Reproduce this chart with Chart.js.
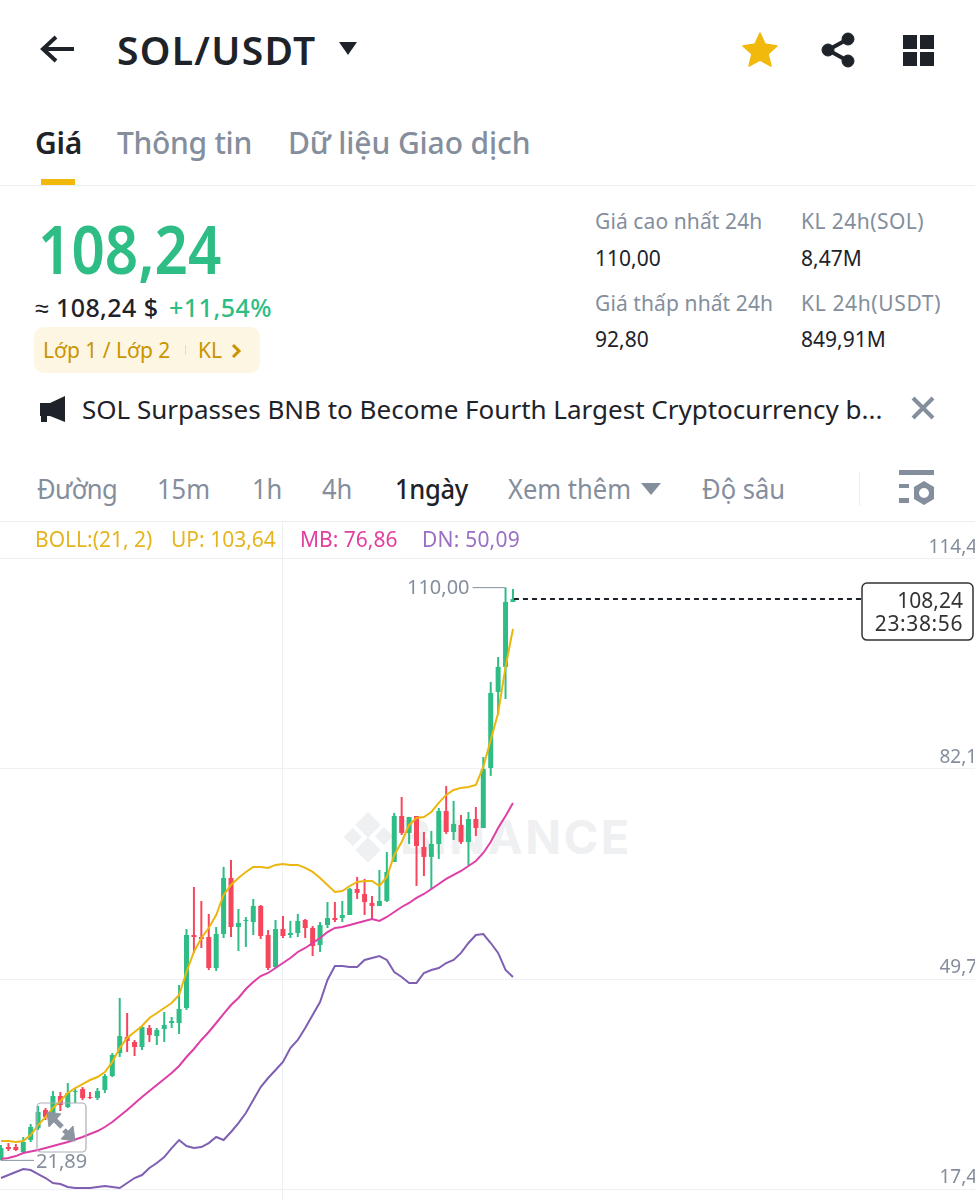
<!DOCTYPE html>
<html>
<head>
<meta charset="utf-8">
<title>SOL/USDT</title>
<script src="https://cdn.jsdelivr.net/npm/chart.js@4"></script>
<style>
  html, body { margin: 0; padding: 0; background: #fff; }
  body { width: 975px; height: 1200px; position: relative; overflow: hidden; font-family: "Noto Sans", sans-serif; color: #1e2329; }
  .t { position: absolute; white-space: nowrap; line-height: 1; transform-origin: left center; }
  .gray { color: #848e9c; }
  .stat { font-size: 21px; letter-spacing: 0.1px; }
  .val { font-size: 21px; }
  .tab { font-size: 27px; top: 475px; color: #848e9c; transform: scaleX(0.945); }
  .leg { font-size: 21px; top: 529px; }
  .line { position: absolute; left: 0; width: 975px; height: 1px; background: #eceef1; }
  svg { position: absolute; left: 0; top: 0; }
  #wm { position: absolute; left: 400px; top: 808px; font: 700 47px Inter, sans-serif; color: #eef0f2; letter-spacing: 2.5px; }
  #grafico { position: absolute; left: 0; top: 522px; }
</style>
</head>
<body>

<div class="t" style="left:117px;top:30px;font-size:39px;font-weight:600;letter-spacing:1.3px">SOL/USDT</div>

<div class="t" style="left:35px;top:128px;font-size:30px;font-weight:600;letter-spacing:-0.3px">Giá</div>
<div class="t gray" style="left:117px;top:128px;font-size:30px;font-weight:500;letter-spacing:-0.3px">Thông tin</div>
<div class="t gray" style="left:288px;top:128px;font-size:30px;font-weight:500;letter-spacing:-0.1px">Dữ liệu Giao dịch</div>
<div style="position:absolute;left:41px;top:179px;width:34px;height:6px;background:#f0b90b"></div>
<div class="line" style="top:185px"></div>

<div class="t" style="left:38px;top:215px;font-size:66px;font-weight:600;color:#2ebd85;transform:scaleX(0.885)">108,24</div>
<div class="t" style="left:35px;top:295px;font-size:25px;font-weight:500;letter-spacing:0.4px">≈ 108,24 $</div>
<div class="t" style="left:169px;top:295px;font-size:25px;font-weight:500;color:#2ebd85;letter-spacing:0.5px">+11,54%</div>
<div style="position:absolute;left:34px;top:327px;width:226px;height:46px;border-radius:10px;background:#fdf6e3"></div>
<div class="t" style="left:43px;top:340px;font-size:21px;color:#c99400">Lớp 1 / Lớp 2</div>
<div style="position:absolute;left:185px;top:345px;width:1px;height:10px;background:#e6dcc0"></div>
<div class="t" style="left:198px;top:340px;font-size:21px;color:#c99400">KL</div>

<div class="t stat gray" style="left:595px;top:211px">Giá cao nhất 24h</div>
<div class="t stat gray" style="left:801px;top:211px;letter-spacing:0.45px">KL 24h(SOL)</div>
<div class="t val" style="left:595px;top:248px">110,00</div>
<div class="t val" style="left:801px;top:248px">8,47M</div>
<div class="t stat gray" style="left:595px;top:293px">Giá thấp nhất 24h</div>
<div class="t stat gray" style="left:801px;top:293px;letter-spacing:0.65px">KL 24h(USDT)</div>
<div class="t val" style="left:595px;top:329px">92,80</div>
<div class="t val" style="left:801px;top:329px">849,91M</div>

<div class="t" style="left:82px;top:396px;font-size:26px">SOL Surpasses BNB to Become Fourth Largest Cryptocurrency b...</div>

<div class="t tab" style="left:37px;letter-spacing:-0.6px">Đường</div>
<div class="t tab" style="left:157px">15m</div>
<div class="t tab" style="left:252px">1h</div>
<div class="t tab" style="left:322px">4h</div>
<div class="t tab" style="left:395px;color:#1e2329;font-weight:500;letter-spacing:-0.3px">1ngày</div>
<div class="t tab" style="left:508px">Xem thêm</div>
<div class="t tab" style="left:702px">Độ sâu</div>
<div class="line" style="top:521px"></div>

<div id="wm">BINANCE</div>
<svg width="975" height="1200" style="z-index:0">
  <g fill="#eef0f2">
    <rect x="359" y="816" width="18" height="18" transform="rotate(45 368 825)" />
    <rect x="359" y="841" width="18" height="18" transform="rotate(45 368 850)" />
    <rect x="346" y="830" width="13" height="13" transform="rotate(45 352 837)" />
    <rect x="377" y="830" width="13" height="13" transform="rotate(45 384 837)" />
  </g>
</svg>

<canvas id="grafico" width="975" height="678"></canvas>

<div class="t leg" style="left:35px;color:#e6b41e">BOLL:(21, 2)</div>
<div class="t leg" style="left:171px;color:#e6b41e">UP: 103,64</div>
<div class="t leg" style="left:300px;color:#e0409f">MB: 76,86</div>
<div class="t leg" style="left:422px;color:#9a6fc4;letter-spacing:0.2px">DN: 50,09</div>

<svg width="975" height="1200">
  <!-- cabecalho -->
  <path d="M74 49H44M56 37L43 49L56 61" fill="none" stroke="#1e2329" stroke-width="4" />
  <path d="M339 42H357L348 55Z" fill="#1e2329" />
  <path d="M760 33L765 44L777 46L768 54L771 66L760 60L749 66L752 54L743 46L755 44Z" fill="#f0b90b" stroke="#f0b90b" stroke-width="1.5" stroke-linejoin="round" />
  <g fill="#1e2329" stroke="#1e2329">
    <circle cx="828" cy="50" r="6" /><circle cx="848" cy="39" r="6" /><circle cx="848" cy="61" r="6" />
    <path d="M828 50L848 39M828 50L848 61" stroke-width="4" />
  </g>
  <g fill="#1e2329">
    <rect x="903" y="35" width="14" height="14" /><rect x="920" y="35" width="14" height="14" />
    <rect x="903" y="52" width="14" height="14" /><rect x="920" y="52" width="14" height="14" />
  </g>
  <path d="M233 345L239 351L233 357" fill="none" stroke="#c99400" stroke-width="3" />
  <!-- noticia -->
  <path d="M40 403H50L65 396V422L50 416H47V422H41V416H40Z" fill="#1e2329" />
  <path d="M913 398L933 418M933 398L913 418" stroke="#848e9c" stroke-width="4" />
  <!-- barra de tempo -->
  <path d="M641 483H661L651 495Z" fill="#848e9c" />
  <rect x="859" y="472" width="1" height="34" fill="#eceef1" />
  <g fill="#848e9c">
    <rect x="899" y="470" width="35" height="5" />
    <rect x="899" y="484" width="10" height="4" />
    <rect x="899" y="498" width="10" height="5" />
    <path fill-rule="evenodd" d="M924 481L934 487V499L924 505L914 499V487ZM924 488A5 5 0 1 0 924 498A5 5 0 1 0 924 488Z" />
  </g>
  <!-- botao de expandir -->
  <rect x="37" y="1103" width="49" height="49" rx="4" fill="none" stroke="#a9afb8" stroke-width="1.2" />
  <g fill="#8d95a1" stroke="#8d95a1">
    <path d="M47 1112L61 1114L49 1127Z" />
    <path d="M75 1141L61 1139L73 1126Z" />
    <path d="M52 1117L62 1127M70 1136L64 1130" stroke-width="5" />
  </g>
</svg>

<script>
// candles (diario)
const abertura = [22.25, 23.94, 23.94, 23.17, 25.02, 26.86, 29.63, 29.17, 31.79, 30.09, 32.40, 32.86, 31.63, 31.48, 32.71, 34.86, 38.40, 40.87, 40.10, 39.33, 42.25, 41.02, 42.10, 43.02, 43.02, 45.33, 56.56, 56.25, 56.25, 51.48, 56.71, 65.34, 57.79, 58.72, 58.56, 61.03, 56.56, 51.64, 57.48, 56.56, 56.87, 58.87, 57.64, 55.02, 58.10, 59.18, 59.18, 59.64, 63.64, 62.87, 61.49, 61.03, 61.80, 67.80, 74.87, 72.26, 74.87, 70.10, 68.57, 70.57, 75.64, 72.41, 73.49, 70.87, 74.41, 73.03, 82.26, 93.96, 97.80, 107.80]
const fechamento = [23.78, 23.63, 23.48, 24.71, 27.02, 29.32, 28.55, 31.79, 30.40, 32.25, 32.55, 31.48, 31.48, 32.55, 34.86, 38.10, 41.02, 40.25, 39.33, 42.41, 41.17, 41.94, 42.71, 43.33, 45.18, 56.56, 56.25, 55.95, 51.48, 56.71, 65.34, 57.79, 58.41, 58.87, 61.03, 56.41, 51.48, 57.48, 56.41, 56.87, 58.72, 57.64, 54.87, 58.10, 59.18, 58.87, 59.64, 63.64, 63.03, 61.64, 61.03, 61.80, 66.26, 74.87, 72.26, 74.72, 70.26, 68.57, 70.57, 75.64, 72.41, 73.65, 70.87, 74.41, 73.03, 82.10, 93.80, 97.80, 107.80, 108.24]
const maxima = [24.25, 24.55, 24.40, 25.48, 27.48, 30.25, 29.94, 32.55, 32.40, 33.79, 32.86, 33.17, 32.40, 33.02, 35.17, 38.40, 46.87, 44.56, 40.41, 42.56, 42.71, 42.25, 44.71, 43.94, 48.87, 57.48, 63.95, 61.80, 59.80, 57.79, 67.03, 68.11, 60.56, 59.33, 62.10, 61.18, 57.33, 58.87, 59.49, 58.72, 59.80, 59.03, 57.95, 58.56, 61.64, 61.64, 61.80, 63.80, 65.49, 65.18, 62.56, 66.57, 69.34, 75.34, 77.80, 74.72, 74.87, 72.41, 72.57, 76.11, 79.49, 77.19, 75.03, 75.49, 76.26, 83.95, 95.50, 99.34, 110.00, 109.80]
const minimas = [21.89, 23.32, 23.32, 23.02, 24.71, 26.55, 28.09, 28.55, 29.48, 29.94, 30.71, 31.17, 31.32, 31.17, 32.25, 34.71, 37.79, 38.56, 37.94, 38.87, 40.10, 39.64, 40.10, 42.25, 41.33, 45.02, 53.79, 54.56, 51.17, 51.02, 56.10, 56.25, 54.10, 54.72, 56.56, 55.95, 51.17, 51.48, 56.10, 56.10, 56.25, 56.10, 53.33, 53.95, 57.64, 58.56, 58.56, 59.64, 62.10, 59.64, 58.87, 61.03, 61.64, 67.80, 71.95, 70.57, 64.11, 65.64, 63.64, 68.26, 72.11, 71.18, 70.57, 67.33, 71.80, 73.03, 81.03, 90.41, 92.87, 107.80]

// bandas de bollinger
const bollUp = [24.86, 24.86, 24.71, 24.86, 25.78, 27.32, 28.55, 29.94, 31.02, 32.25, 33.02, 33.63, 34.25, 34.71, 35.48, 37.02, 39.17, 40.71, 41.64, 42.56, 43.79, 44.56, 45.33, 46.10, 47.33, 50.87, 53.95, 56.10, 57.64, 59.64, 62.72, 64.26, 65.34, 66.26, 67.03, 67.03, 66.88, 67.34, 67.49, 67.34, 67.34, 66.88, 66.26, 65.34, 64.26, 63.18, 63.33, 64.10, 64.72, 64.87, 64.87, 64.10, 65.49, 68.87, 70.87, 73.49, 74.57, 74.72, 75.49, 76.88, 78.11, 78.88, 79.19, 79.34, 79.65, 82.42, 86.57, 90.72, 97.80, 103.64]
const bollMb = [22.09, 22.25, 22.55, 23.02, 23.25, 23.48, 23.78, 24.09, 24.40, 24.71, 25.09, 25.48, 25.94, 26.40, 27.02, 27.78, 28.71, 29.63, 30.63, 31.63, 32.55, 33.48, 34.40, 35.33, 36.41, 37.79, 39.02, 40.41, 41.64, 43.02, 44.41, 45.79, 46.87, 48.25, 49.33, 50.25, 50.72, 51.48, 52.25, 53.02, 53.95, 54.56, 55.33, 56.10, 57.02, 57.64, 57.79, 58.10, 58.41, 58.72, 59.03, 58.72, 59.33, 60.10, 60.87, 61.49, 62.26, 62.87, 63.64, 64.41, 65.18, 65.80, 66.41, 67.18, 67.95, 69.18, 70.87, 73.03, 74.87, 76.86]
const bollDn = [19.17, 19.63, 20.09, 20.55, 20.40, 19.78, 19.17, 18.40, 18.25, 17.79, 17.63, 17.63, 17.63, 17.79, 17.94, 17.79, 17.63, 18.40, 19.17, 19.63, 20.71, 21.48, 22.40, 23.78, 25.02, 24.09, 23.78, 23.94, 24.55, 25.48, 25.02, 26.25, 27.63, 29.17, 31.17, 33.17, 34.56, 35.79, 37.02, 39.17, 40.41, 42.25, 44.25, 46.25, 49.64, 51.79, 51.79, 51.64, 51.64, 52.72, 53.02, 53.33, 52.72, 50.87, 50.10, 49.18, 49.18, 50.72, 51.18, 51.48, 52.25, 52.72, 53.80, 55.33, 56.56, 56.71, 55.33, 53.80, 51.18, 50.09]

const ticksPreco = [114.41, 82.10, 49.79, 17.48]
const precoAtual = 108.24
const horaRestante = '23:38:56'
const maxDia = 110.00
const minDia = 21.89

const verde = '#2ebd85'
const vermelho = '#f6465d'

function virgula(v) {
    return v.toFixed(2).replace('.', ',')
}

let indices = abertura.map((_, i) => i)
let cores = indices.map(i => fechamento[i] >= abertura[i] ? verde : vermelho)

// marcacoes do preco atual e de max/min
const marcacoes = {
    id: 'marcacoes',
    afterDatasetsDraw(chart) {
        let ctx = chart.ctx
        let x = chart.scales.x
        let y = chart.scales.y
        ctx.save()
        ctx.font = '20px "Noto Sans"'
        ctx.fillStyle = '#848e9c'
        ctx.strokeStyle = '#848e9c'
        ctx.lineWidth = 1

        // maxima
        let yMax = y.getPixelForValue(maxDia)
        ctx.textAlign = 'right'
        ctx.textBaseline = 'middle'
        ctx.fillText(virgula(maxDia), x.getPixelForValue(68) - 36, yMax + 1)
        ctx.beginPath()
        ctx.moveTo(x.getPixelForValue(68) - 33, yMax)
        ctx.lineTo(x.getPixelForValue(68), yMax)
        ctx.stroke()

        // minima
        let yMin = y.getPixelForValue(minDia)
        ctx.textAlign = 'left'
        ctx.fillText(virgula(minDia), x.getPixelForValue(0) + 35, yMin + 2)
        ctx.beginPath()
        ctx.moveTo(x.getPixelForValue(0), yMin)
        ctx.lineTo(x.getPixelForValue(0) + 33, yMin)
        ctx.stroke()

        // preco atual
        let yAtual = y.getPixelForValue(precoAtual)
        ctx.strokeStyle = '#1e2329'
        ctx.lineWidth = 2
        ctx.setLineDash([5, 4])
        ctx.beginPath()
        ctx.moveTo(x.getPixelForValue(69) + 1, yAtual)
        ctx.lineTo(862, yAtual)
        ctx.stroke()
        ctx.setLineDash([])

        ctx.fillStyle = '#fff'
        ctx.strokeStyle = '#333'
        ctx.lineWidth = 1.5
        ctx.beginPath()
        ctx.roundRect(862, yAtual - 16, 111, 57, 5)
        ctx.fill()
        ctx.stroke()

        ctx.fillStyle = '#333'
        ctx.textAlign = 'right'
        ctx.font = '21px "Noto Sans"'
        ctx.fillText(virgula(precoAtual), 963, yAtual + 3)
        ctx.letterSpacing = '0.6px'
        ctx.fillText(horaRestante, 963, yAtual + 26)
        ctx.restore()
    }
}

let ctx = document.getElementById('grafico').getContext('2d')

let grafico = new Chart(ctx, {
    type: 'bar',
    data: {
        datasets: [
            // pavios
            {
                type: 'bar',
                data: indices.map(i => ({ x: i, y: [minimas[i], maxima[i]] })),
                backgroundColor: cores,
                grouped: false,
                barPercentage: 1,
                maxBarThickness: 2,
                order: 5
            },
            // corpos
            {
                type: 'bar',
                data: indices.map(i => ({ x: i, y: [abertura[i], fechamento[i]] })),
                backgroundColor: cores,
                grouped: false,
                barPercentage: 1,
                maxBarThickness: 5,
                order: 4
            },
            { type: 'line', label: 'UP', data: indices.map(i => ({ x: i, y: bollUp[i] })), borderColor: '#ecb60e', borderWidth: 2, pointRadius: 0, order: 1 },
            { type: 'line', label: 'MB', data: indices.map(i => ({ x: i, y: bollMb[i] })), borderColor: '#dd3fa6', borderWidth: 2, pointRadius: 0, order: 2 },
            { type: 'line', label: 'DN', data: indices.map(i => ({ x: i, y: bollDn[i] })), borderColor: '#7e5fb2', borderWidth: 2, pointRadius: 0, order: 3 }
        ]
    },
    options: {
        responsive: false,
        animation: false,
        devicePixelRatio: 1,
        layout: { padding: 0 },
        plugins: {
            legend: { display: false },
            title: { display: false },
            tooltip: { enabled: false }
        },
        scales: {
            x: {
                type: 'linear',
                offset: false,
                min: -0.135,
                max: 131.27,
                afterBuildTicks: axis => { axis.ticks = [{ value: 38 }] },
                ticks: { display: false },
                grid: { color: '#eff0f3', drawTicks: false, offset: false },
                border: { display: false }
            },
            y: {
                type: 'linear',
                position: 'right',
                min: 15.79,
                max: 120.10,
                afterBuildTicks: axis => { axis.ticks = ticksPreco.map(v => ({ value: v })) },
                // labels ficam dentro do grafico, sem ocupar espaco
                afterFit: axis => { axis.width = 0; axis.paddingTop = 0; axis.paddingBottom = 0 },
                ticks: {
                    mirror: true,
                    padding: 13,
                    labelOffset: -11,
                    autoSkip: false,
                    color: '#848e9c',
                    font: { family: '"Noto Sans"', size: 19 },
                    callback: v => virgula(v)
                },
                grid: { color: '#eff0f3', drawTicks: false },
                border: { display: false }
            }
        }
    },
    plugins: [marcacoes]
})
</script>
</body>
</html>
